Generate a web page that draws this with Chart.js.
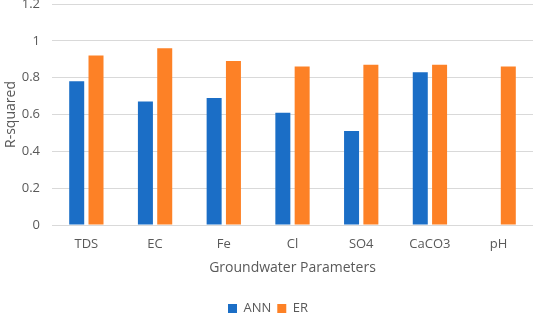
<!DOCTYPE html>
<html><head><meta charset="utf-8">
<script src="https://cdn.jsdelivr.net/npm/chart.js@4/dist/chart.umd.min.js"></script>
<style>html,body{margin:0;padding:0;background:#fff}#wrap{width:533px;height:313px}</style>
</head><body><div id="wrap"><canvas id="c"></canvas></div>
<script>
const categories = ["TDS","EC","Fe","Cl","SO4","CaCO3","pH"];
const annValues = [0.78,0.67,0.69,0.61,0.51,0.83,null];
const erValues = [0.92,0.96,0.89,0.86,0.87,0.87,0.86];
const yTicks = [0,0.2,0.4,0.6,0.8,1,1.2];
const FONT = "'Open Sans', sans-serif";
new Chart(document.getElementById('c'), {
  type: 'bar',
  data: {
    labels: categories,
    datasets: [
      {label:'ANN', data: annValues, backgroundColor:'#1b6ec6'},
      {label:'ER', data: erValues, backgroundColor:'#fd8126'}
    ]
  },
  options: {
    responsive:true, maintainAspectRatio:false, animation:false,
    layout:{padding:{top:4,right:0,left:3,bottom:-12}},
    datasets:{bar:{categoryPercentage:0.562,barPercentage:0.777}},
    plugins:{
      legend:{position:'bottom',labels:{font:{family:FONT,size:13},color:'#595959',boxWidth:9,boxHeight:9,padding:6}},
      tooltip:{enabled:false}
    },
    scales:{
      x:{
        afterFit:(s)=>{s.height=71;},
        grid:{display:false,drawTicks:false},
        border:{display:false},
        ticks:{font:{family:FONT,size:13},color:'#595959',padding:11},
        title:{display:true,text:'Groundwater Parameters',font:{family:FONT,size:14},color:'#595959',padding:{top:2,bottom:20}}
      },
      y:{
        min:0,max:1.2,
        afterBuildTicks:(s)=>{s.ticks=yTicks.map(v=>({value:v}));},
        afterFit:(s)=>{s.width=49;s.paddingTop=0;s.paddingBottom=0;},
        grid:{color:'#d9d9d9',drawTicks:false},
        border:{display:false},
        ticks:{font:{family:FONT,size:13},color:'#595959',padding:12,callback:(v)=>String(v)},
        title:{display:true,text:'R-squared',font:{family:FONT,size:14},color:'#595959',padding:{top:0,bottom:4}}
      }
    }
  }
});
</script></body></html>
